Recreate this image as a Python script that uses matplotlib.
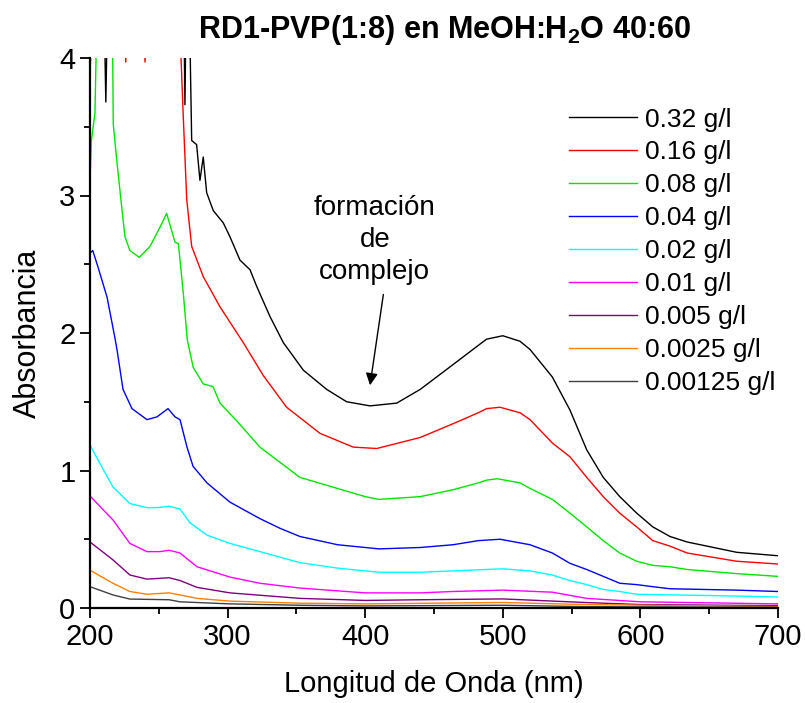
import matplotlib

matplotlib.use("Agg")
import matplotlib.pyplot as plt  # noqa: E402
from matplotlib.ticker import MultipleLocator  # noqa: E402

plt.rcParams["font.family"] = ["Liberation Sans", "DejaVu Sans"]
plt.rcParams["mathtext.fontset"] = "custom"
plt.rcParams["mathtext.rm"] = "Liberation Sans"
plt.rcParams["mathtext.bf"] = "Liberation Sans:bold"

# spectra: wavelength (nm) / absorbance per concentration
wl_032 = [200, 201, 210, 211.5, 213, 268, 269, 270, 272, 273.9, 277.5, 279.9, 282.3, 284.8,
          289.6, 296.9, 301.7, 309, 316.3, 321.1, 330.8, 340.5, 355, 372, 386.5, 403.5,
          422.9, 440, 463.8, 482.2, 488.2, 500, 512.5, 519.8, 536, 548.8, 561, 573, 585,
          597.3, 609, 621.5, 634, 658, 670, 700]
a_032 = [3.95, 4.4, 4.5, 3.68, 4.5, 4.5, 3.66, 4.5, 4.5, 3.40, 3.37, 3.11, 3.28, 3.02,
         2.89, 2.80, 2.70, 2.53, 2.46, 2.34, 2.12, 1.93, 1.73, 1.59, 1.50, 1.47,
         1.49, 1.59, 1.77, 1.91, 1.955, 1.98, 1.94, 1.88, 1.68, 1.44, 1.15, 0.95, 0.81,
         0.69, 0.59, 0.52, 0.48, 0.43, 0.405, 0.38]

wl_016 = [200, 202, 225, 226, 227, 239, 240, 241, 265, 267.8, 270.3, 273.9, 282.3, 294.5,
          311.4, 326, 342.9, 367.2, 391.4, 408.4, 440, 447.1, 463.8, 482.2, 488.2, 498,
          512.5, 519.8, 536, 548.8, 561, 573, 585, 597.3, 609, 621.5, 634, 658, 670, 700]
a_016 = [3.9, 4.3, 4.3, 3.97, 4.3, 4.3, 3.97, 4.3, 4.3, 3.57, 2.97, 2.63, 2.41, 2.19,
         1.93, 1.69, 1.46, 1.27, 1.17, 1.16, 1.24, 1.27, 1.34, 1.42, 1.45, 1.46, 1.42,
         1.37, 1.20, 1.10, 0.95, 0.81, 0.69, 0.59, 0.49, 0.45, 0.40, 0.36, 0.34, 0.32]

wl_008 = [200, 201, 203.6, 205, 216.5, 216.9, 219.4, 223, 225.4, 229, 235.8, 243.6, 250.9,
          255.7, 261.8, 264.2, 267.8, 270.7, 275, 282.3, 289.4, 294.5, 306.7, 323.5, 352.6,
          400, 410, 440, 463.8, 482.2, 488.2, 496, 512.5, 519.8, 536, 548.8, 561, 573, 585,
          597.3, 609, 621.5, 634, 670, 700]
a_008 = [3.1, 3.4, 3.6, 4.3, 4.01, 3.52, 3.26, 2.92, 2.70, 2.60, 2.55, 2.63, 2.77,
         2.87, 2.66, 2.65, 2.29, 1.95, 1.75, 1.63, 1.61, 1.49, 1.36, 1.17, 0.95,
         0.81, 0.79, 0.81, 0.86, 0.91, 0.93, 0.94, 0.91, 0.87, 0.79, 0.69, 0.59, 0.49,
         0.40, 0.34, 0.31, 0.30, 0.28, 0.25, 0.23]

wl_004 = [200, 202, 205.8, 212.4, 218, 219.6, 224, 230.5, 241.4, 248.7, 256.7, 261.8, 265.4,
          270.5, 274.9, 285, 301.7, 323.5, 338, 352.6, 380, 410, 440, 463.8, 482.2, 498,
          519.8, 536, 548.8, 561, 573, 585, 597.3, 609, 621.5, 670, 700]
a_004 = [2.58, 2.60, 2.48, 2.26, 1.97, 1.88, 1.59, 1.45, 1.37, 1.39, 1.45, 1.39, 1.37,
         1.17, 1.03, 0.91, 0.77, 0.65, 0.58, 0.52, 0.46, 0.43, 0.44, 0.46, 0.49, 0.50,
         0.46, 0.40, 0.325, 0.28, 0.23, 0.18, 0.17, 0.155, 0.14, 0.13, 0.12]

wl_002 = [200, 207.3, 216.7, 229, 241.4, 248.7, 257.5, 265.4, 272.7, 285, 301.7, 323.5,
          352.6, 380, 410, 440, 463.8, 500, 519.8, 536, 548.8, 561, 573, 585, 597.3,
          670, 700]
a_002 = [1.185, 1.05, 0.88, 0.76, 0.73, 0.73, 0.74, 0.72, 0.62, 0.53, 0.47, 0.41,
         0.33, 0.29, 0.26, 0.26, 0.27, 0.285, 0.27, 0.24, 0.20, 0.17, 0.135, 0.12, 0.10,
         0.087, 0.08]

wl_001 = [200, 216.7, 229, 241.4, 250.9, 257.5, 265.4, 277.8, 301.7, 323.5, 352.6, 400,
          440, 463.8, 500, 536, 561, 600, 700]
a_001 = [0.815, 0.64, 0.47, 0.41, 0.41, 0.42, 0.40, 0.30, 0.225, 0.18, 0.145, 0.11,
         0.11, 0.12, 0.13, 0.115, 0.07, 0.045, 0.03]

wl_0005 = [200, 216.7, 229, 241.4, 257.5, 265.4, 277.8, 301.7, 352.6, 400, 440, 500,
           560, 600, 700]
a_0005 = [0.48, 0.35, 0.24, 0.21, 0.22, 0.20, 0.15, 0.11, 0.07, 0.055, 0.06, 0.066,
          0.04, 0.025, 0.017]

wl_00025 = [200, 216.7, 229, 241.4, 257.5, 265.4, 277.8, 301.7, 352.6, 400, 500, 560, 700]
a_00025 = [0.275, 0.18, 0.12, 0.10, 0.11, 0.095, 0.07, 0.05, 0.035, 0.03, 0.04, 0.025, 0.01]

wl_000125 = [200, 216.7, 229, 257.5, 265.4, 301.7, 352.6, 400, 500, 560, 700]
a_000125 = [0.155, 0.095, 0.065, 0.06, 0.045, 0.03, 0.02, 0.015, 0.02, 0.01, 0.005]

labels = ["0.32 g/l", "0.16 g/l", "0.08 g/l", "0.04 g/l", "0.02 g/l", "0.01 g/l",
          "0.005 g/l", "0.0025 g/l", "0.00125 g/l"]
colors = ["black", "red", "#00e600", "#0000ff", "cyan", "magenta", "#800080",
          "#ff8000", "#404040"]
series = [(wl_032, a_032), (wl_016, a_016), (wl_008, a_008), (wl_004, a_004),
          (wl_002, a_002), (wl_001, a_001), (wl_0005, a_0005), (wl_00025, a_00025),
          (wl_000125, a_000125)]

fig = plt.figure(figsize=(8.05, 7.03), dpi=100)
ax = fig.add_axes([90 / 805, 1 - 608 / 703, (778 - 90) / 805, (608 - 58) / 703])

for (x, y), c, lab in zip(series, colors, labels):
    ax.plot(x, y, color=c, lw=1.0, label=lab)

ax.set_xlim(200, 700)
ax.set_ylim(0, 4)
ax.xaxis.set_major_locator(MultipleLocator(100))
ax.xaxis.set_minor_locator(MultipleLocator(50))
ax.yaxis.set_major_locator(MultipleLocator(1))
ax.yaxis.set_minor_locator(MultipleLocator(0.5))
ax.tick_params(which="major", direction="out", length=7, width=1.3, labelsize=21)
ax.tick_params(which="minor", direction="out", length=4, width=1.3)
for s in ("top", "right"):
    ax.spines[s].set_visible(False)
for s in ("left", "bottom"):
    ax.spines[s].set_linewidth(1.6)

ax.set_xlabel("Longitud de Onda (nm)", fontsize=21, labelpad=14)
ax.set_ylabel("Absorbancia", fontsize=22, labelpad=12)
fig.text(0.552, 0.958, r"RD1-PVP(1:8) en MeOH:H$\mathbf{_2}$O 40:60", fontsize=22,
         fontweight="bold", ha="center", va="center")

ax.text(407, 2.676, "formación\nde\ncomplejo", fontsize=20, ha="center", va="center",
        linespacing=1.3)
ax.annotate("", xy=(403.5, 1.62), xytext=(413.2, 2.28),
            arrowprops=dict(arrowstyle="-|>", color="black", lw=1.0,
                            mutation_scale=18, shrinkA=0, shrinkB=0))

ax.legend(loc="upper left", bbox_to_anchor=(0.696, 0.91), frameon=False, fontsize=19,
          handlelength=2.58, labelspacing=0.34, handletextpad=0.3, borderaxespad=0,
          borderpad=0)

fig.savefig("out.png", dpi=100)
